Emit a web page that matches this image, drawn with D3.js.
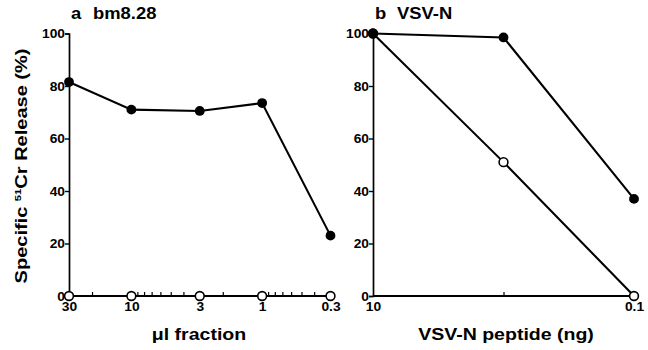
<!DOCTYPE html>
<html><head><meta charset="utf-8">
<script src="https://cdn.jsdelivr.net/npm/d3@7"></script>
<style>
body{margin:0;background:#fff;}
text{font-family:"Liberation Sans",Arial,Helvetica,sans-serif;font-weight:bold;fill:#000;}
</style></head>
<body>
<svg id="c" width="648" height="350"></svg>
<script>
// ---- data ----
const fractionValues = [30, 10, 3, 1, 0.3];
const fractionLabels = ["30", "10", "3", "1", "0.3"];
const fractionMinor = [20, 9, 8, 7, 6, 5, 4, 2, 0.9, 0.8, 0.7, 0.6, 0.5, 0.4];
const bmFilled = [81.5, 71, 70.5, 73.5, 23];
const bmOpen = [0, 0, 0, 0, 0];

const peptideDoses = [10, 1, 0.1];
const peptideLabels = ["10", "", "0.1"];
const vsvFilled = [100, 98.5, 37];
const vsvOpen = [100, 51, 0];

const yTicks = [0, 20, 40, 60, 80, 100];
const titleA = ["a", "bm8.28"];
const titleB = ["b", "VSV-N"];
const xLabelA = "\u03bcl fraction";
const xLabelB = "VSV-N peptide (ng)";

// ---- drawing ----
const svg = d3.select("#c");
const SX = 1.15;
const y = d3.scaleLinear().domain([0, 100]).range([296, 33.5]);

function stretchText(g, x, yy, str, size, anchor) {
  return g.append("text")
    .attr("transform", `translate(${x},${yy}) scale(${SX},1)`)
    .attr("text-anchor", anchor || "start")
    .style("font-size", size + "px")
    .text(str);
}

function panel(opts) {
  const g = svg.append("g");
  const x = d3.scaleLog().domain(opts.domain).range(opts.range);
  // y axis
  const ya = d3.axisLeft(y).tickValues(yTicks).tickSize(4).tickPadding(2).tickFormat(d3.format("d"));
  const yg = g.append("g").attr("transform", `translate(${opts.range[0]},0)`).call(ya);
  yg.select(".domain").attr("stroke", "#000").attr("stroke-width", 1.7);
  yg.selectAll(".tick line").attr("stroke", "#000").attr("stroke-width", 1.4);
  yg.selectAll(".tick text").attr("x", null).attr("dy", "0.36em")
    .attr("transform", `translate(-4,0) scale(${SX},1)`)
    .style("font-size", "12px").style("font-family", "Liberation Sans, Arial").style("font-weight", "bold");

  // x axis line
  g.append("line").attr("x1", opts.range[0]).attr("x2", opts.range[1])
    .attr("y1", y(0)).attr("y2", y(0)).attr("stroke", "#000").attr("stroke-width", 1.9);
  // minor ticks (upward)
  const ma = d3.axisBottom(x).tickValues(opts.minor).tickSize(-4).tickFormat("");
  const mg = g.append("g").attr("transform", `translate(0,${y(0)})`).call(ma);
  mg.select(".domain").remove();
  mg.selectAll(".tick line").attr("stroke", "#000").attr("stroke-width", 1.2);
  // major labels
  const xa = d3.axisBottom(x).tickValues(opts.values).tickSize(0).tickPadding(6)
    .tickFormat((d, i) => opts.labels[i]);
  const xg = g.append("g").attr("transform", `translate(0,${y(0)})`).call(xa);
  xg.select(".domain").remove();
  xg.selectAll(".tick text").attr("transform", `scale(${SX},1)`)
    .style("font-size", "12px").style("font-family", "Liberation Sans, Arial").style("font-weight", "bold");

  const line = d3.line().x(d => x(d[0])).y(d => y(d[1]));
  const filled = opts.values.map((v, i) => [v, opts.filled[i]]);
  const open = opts.values.map((v, i) => [v, opts.open[i]]);
  g.append("path").datum(open).attr("d", line).attr("fill", "none").attr("stroke", "#000").attr("stroke-width", 2.1);
  g.append("path").datum(filled).attr("d", line).attr("fill", "none").attr("stroke", "#000").attr("stroke-width", 2.1);
  g.selectAll(".op").data(open).join("circle").attr("class", "op")
    .attr("cx", d => x(d[0])).attr("cy", d => y(d[1])).attr("r", 4.4)
    .attr("fill", "#fff").attr("stroke", "#000").attr("stroke-width", 1.6);
  g.selectAll(".fp").data(filled).join("circle").attr("class", "fp")
    .attr("cx", d => x(d[0])).attr("cy", d => y(d[1])).attr("r", 4.9)
    .attr("fill", "#000");

  // titles
  stretchText(g, opts.range[0] + 2, 19, opts.title[0], 16);
  stretchText(g, opts.range[0] + opts.titleGap, 19, opts.title[1], 16);
  stretchText(g, opts.xLabelX, 340, opts.xLabel, 17, "middle");
  return x;
}

panel({domain: [30, 0.3], range: [69, 330.5], values: fractionValues, labels: fractionLabels,
  minor: fractionMinor, filled: bmFilled, open: bmOpen, title: titleA, titleGap: 24,
  xLabel: xLabelA, xLabelX: 199});
panel({domain: [10, 0.1], range: [373, 634], values: peptideDoses, labels: peptideLabels,
  minor: [1], filled: vsvFilled, open: vsvOpen, title: titleB, titleGap: 24,
  xLabel: xLabelB, xLabelX: 506});

// y-axis label
const yl = svg.append("text")
  .attr("transform", `translate(27,166) rotate(-90) scale(1.25,1)`)
  .attr("text-anchor", "middle").style("font-size", "16px");
yl.append("tspan").text("Specific ");
yl.append("tspan").text("51").style("font-size", "9px").attr("dy", "-6");
yl.append("tspan").text("Cr Release (%)").attr("dy", "6");
</script>
</body></html>
